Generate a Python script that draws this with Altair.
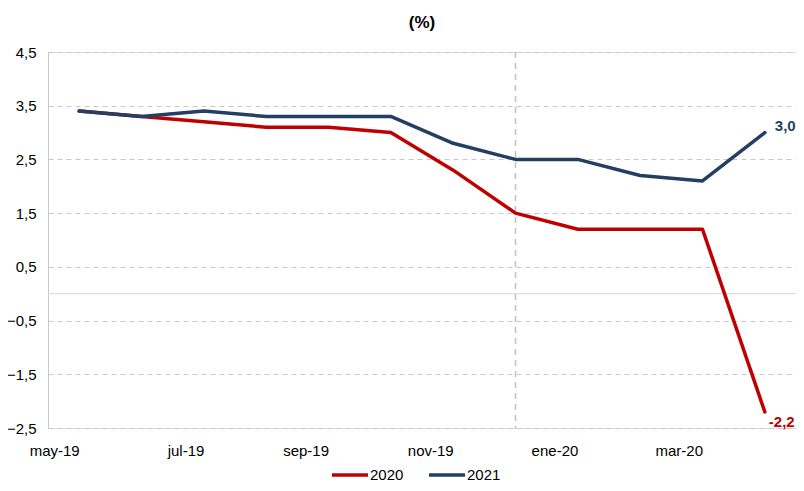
import altair as alt
import pandas as pd

months = ["may-19", "jun-19", "jul-19", "ago-19", "sep-19", "oct-19",
          "nov-19", "dic-19", "ene-20", "feb-20", "mar-20", "abr-20"]
s2020 = [3.4, 3.3, 3.2, 3.1, 3.1, 3.0, 2.3, 1.5, 1.2, 1.2, 1.2, -2.2]
s2021 = [3.4, 3.3, 3.4, 3.3, 3.3, 3.3, 2.8, 2.5, 2.5, 2.2, 2.1, 3.0]
series = ["2020", "2021"]
colors = ["#C00000", "#243F63"]
tick_months = ["may-19", "jul-19", "sep-19", "nov-19", "ene-20", "mar-20"]
y_ticks = [-2.5, -1.5, -0.5, 0.5, 1.5, 2.5, 3.5, 4.5]
marker_month = "dic-19"

rows = []
for name, vals in zip(series, [s2020, s2021]):
    for m, v in zip(months, vals):
        rows.append({"mes": m, "valor": v, "serie": name})
df = pd.DataFrame(rows)

FONT = "Liberation Sans"
x_scale = alt.Scale(type="point", padding=0.5, domain=months)
y_scale = alt.Scale(domain=[-2.5, 4.5], nice=False, zero=False)

x_enc = alt.X("mes:N", sort=months, scale=x_scale,
              axis=alt.Axis(values=tick_months, title=None, domain=False, ticks=False,
                            labelPadding=22, labelFontSize=15, labelColor="#000000",
                            labelFont=FONT, labelAngle=0, grid=False))

base = alt.Chart(df)

lines = base.mark_line(strokeWidth=3.5, strokeJoin="round", strokeCap="round").encode(
    x=x_enc,
    y=alt.Y("valor:Q", scale=y_scale,
            axis=alt.Axis(values=y_ticks, title=None,
                          labelExpr="replace(format(datum.value, '.1f'), '.', ',')",
                          labelFontSize=15, labelColor="#000000", labelFont=FONT,
                          ticks=False, domain=True, domainColor="#c8c8c8",
                          grid=True, gridColor="#c8c8c8", gridDash=[5, 4], gridWidth=1,
                          labelPadding=12, minExtent=40, maxExtent=40)),
    color=alt.Color("serie:N", scale=alt.Scale(domain=series, range=colors),
                    legend=alt.Legend(title=None, orient="none", legendX=282, legendY=403,
                                      direction="horizontal", symbolType="stroke",
                                      symbolSize=1296, symbolStrokeWidth=3.5,
                                      labelFontSize=15, labelFont=FONT, labelColor="#000000",
                                      columnPadding=18, labelOffset=0)),
)

zero_df = pd.DataFrame({"y": [0.0]})
zero = alt.Chart(zero_df).mark_rule(color="#d9d9d9", strokeWidth=1).encode(
    y=alt.Y("y:Q", scale=y_scale))

vline_df = pd.DataFrame({"mes": [marker_month]})
vline = alt.Chart(vline_df).mark_rule(color="#c0c0c0", strokeWidth=1.5, strokeDash=[6, 5]).encode(
    x=alt.X("mes:N", sort=months, scale=x_scale),
)

last_2021 = pd.DataFrame({"mes": [months[-1]], "valor": [s2021[-1]],
                          "txt": [format(s2021[-1], ".1f").replace(".", ",")]})
last_2020 = pd.DataFrame({"mes": [months[-1]], "valor": [s2020[-1]],
                          "txt": [format(s2020[-1], ".1f").replace(".", ",")]})

lab21 = alt.Chart(last_2021).mark_text(align="left", baseline="middle", dx=10, dy=-7,
                                       fontSize=15, fontWeight="bold", font=FONT,
                                       color=colors[1]).encode(
    x=alt.X("mes:N", sort=months, scale=x_scale),
    y=alt.Y("valor:Q", scale=y_scale), text="txt:N")
lab20 = alt.Chart(last_2020).mark_text(align="left", baseline="middle", dx=4, dy=10,
                                       fontSize=15, fontWeight="bold", font=FONT,
                                       color=colors[0]).encode(
    x=alt.X("mes:N", sort=months, scale=x_scale),
    y=alt.Y("valor:Q", scale=y_scale), text="txt:N")

chart = alt.layer(zero, vline, lines, lab21, lab20).properties(
    width=748, height=376,
    autosize=alt.AutoSizeParams(type="none"),
    padding={"left": 40, "top": 44, "right": 0, "bottom": 55},
    title=alt.TitleParams("(%)", fontSize=17, fontWeight="bold", font=FONT,
                          color="#000000", anchor="middle", offset=13),
).configure_view(stroke=None).configure(background="white")

chart.save("out.html", embed_options={"renderer": "svg", "actions": False})
